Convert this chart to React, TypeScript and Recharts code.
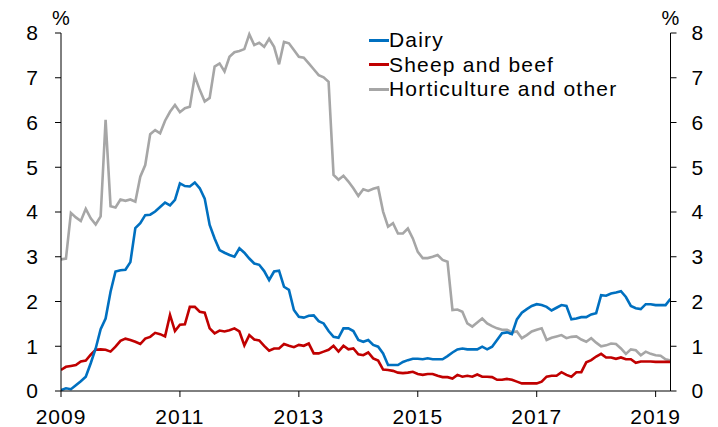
import React from 'react';
import { LineChart, Line, XAxis, YAxis, Legend } from 'recharts';

const startYear = 2009;

const dairy = [
  0.02, 0.06, 0.04, 0.13, 0.22, 0.32, 0.62, 0.95, 1.38, 1.62, 2.22, 2.67,
  2.70, 2.71, 2.88, 3.64, 3.75, 3.93, 3.94, 4.01, 4.11, 4.21, 4.15, 4.27,
  4.64, 4.58, 4.57, 4.66, 4.53, 4.30, 3.71, 3.41, 3.15, 3.09, 3.04, 3.00,
  3.19, 3.09, 2.96, 2.85, 2.82, 2.68, 2.48, 2.67, 2.69, 2.33, 2.26, 1.81,
  1.66, 1.64, 1.68, 1.69, 1.56, 1.51, 1.34, 1.21, 1.19, 1.40, 1.40, 1.34,
  1.14, 1.10, 1.14, 1.03, 0.99, 0.84, 0.58, 0.58, 0.58, 0.65, 0.69, 0.72,
  0.72, 0.71, 0.73, 0.71, 0.71, 0.71, 0.78, 0.86, 0.93, 0.95, 0.93, 0.93,
  0.93, 0.99, 0.93, 0.99, 1.14, 1.29, 1.31, 1.27, 1.60, 1.75, 1.83, 1.90,
  1.94, 1.92, 1.88, 1.80, 1.86, 1.92, 1.90, 1.60, 1.62, 1.65, 1.65, 1.71,
  1.74, 2.14, 2.13, 2.18, 2.20, 2.23, 2.10, 1.90, 1.85, 1.83, 1.94, 1.94,
  1.92, 1.92, 1.92, 2.06,
];

const sheepAndBeef = [
  0.47, 0.54, 0.56, 0.58, 0.66, 0.68, 0.81, 0.92, 0.93, 0.92, 0.88, 0.99,
  1.12, 1.17, 1.14, 1.10, 1.05, 1.17, 1.21, 1.30, 1.27, 1.22, 1.70, 1.34,
  1.48, 1.49, 1.88, 1.88, 1.77, 1.75, 1.40, 1.29, 1.35, 1.33, 1.36, 1.40,
  1.33, 1.02, 1.25, 1.15, 1.13, 1.01, 0.90, 0.95, 0.95, 1.05, 1.01, 0.98,
  1.03, 1.01, 1.06, 0.84, 0.84, 0.88, 0.92, 1.01, 0.88, 1.01, 0.93, 0.95,
  0.82, 0.80, 0.86, 0.73, 0.68, 0.48, 0.47, 0.45, 0.41, 0.40, 0.41, 0.43,
  0.38, 0.36, 0.38, 0.38, 0.34, 0.31, 0.31, 0.28, 0.36, 0.32, 0.34, 0.32,
  0.37, 0.32, 0.32, 0.31, 0.25, 0.25, 0.27, 0.25, 0.21, 0.17, 0.17, 0.17,
  0.17, 0.21, 0.32, 0.34, 0.34, 0.42, 0.36, 0.32, 0.42, 0.42, 0.64, 0.69,
  0.77, 0.83, 0.75, 0.75, 0.72, 0.75, 0.71, 0.71, 0.63, 0.66, 0.66, 0.66,
  0.65, 0.65, 0.65, 0.65,
];

const horticulture = [
  2.94, 2.96, 3.98, 3.88, 3.80, 4.07, 3.86, 3.72, 3.90, 6.06, 4.13, 4.10,
  4.28, 4.25, 4.28, 4.23, 4.79, 5.05, 5.74, 5.83, 5.76, 6.04, 6.24, 6.39,
  6.23, 6.32, 6.35, 7.03, 6.73, 6.47, 6.55, 7.25, 7.32, 7.14, 7.47, 7.57,
  7.60, 7.64, 7.97, 7.73, 7.78, 7.69, 7.87, 7.69, 7.30, 7.80, 7.77, 7.62,
  7.47, 7.45, 7.32, 7.19, 7.06, 7.01, 6.91, 4.83, 4.72, 4.81, 4.68, 4.53,
  4.36, 4.51, 4.47, 4.52, 4.55, 4.01, 3.67, 3.75, 3.52, 3.52, 3.63, 3.41,
  3.11, 2.97, 2.97, 3.00, 3.04, 2.93, 2.89, 1.81, 1.82, 1.77, 1.51, 1.44,
  1.53, 1.62, 1.51, 1.45, 1.40, 1.37, 1.37, 1.31, 1.33, 1.18, 1.25, 1.33,
  1.37, 1.40, 1.14, 1.19, 1.22, 1.25, 1.18, 1.21, 1.22, 1.15, 1.10, 1.18,
  1.08, 1.00, 1.02, 1.06, 1.05, 0.95, 0.83, 0.93, 0.91, 0.80, 0.88, 0.83,
  0.80, 0.79, 0.71, 0.68,
];

const xTicks = [2009, 2011, 2013, 2015, 2017, 2019];
const yTicks = [0, 1, 2, 3, 4, 5, 6, 7, 8];

const series = [
  { key: 'dairy', name: 'Dairy', color: '#0070C0' },
  { key: 'sheep', name: 'Sheep and beef', color: '#C00000' },
  { key: 'hort', name: 'Horticulture and other', color: '#A6A6A6' },
];

const data = dairy.map((d, i) => ({
  t: startYear + i / 12,
  dairy: d,
  sheep: sheepAndBeef[i],
  hort: horticulture[i],
}));

const FONT = "'Liberation Sans', Arial, sans-serif";
const FS = 21;

const tickStyle = { fill: '#000', fontSize: FS, fontFamily: FONT, letterSpacing: 1 };

const renderLegend = () => (
  <div style={{ fontFamily: FONT, fontSize: FS, color: '#000', letterSpacing: 1.2 }}>
    {series.map((s) => (
      <div key={s.key} style={{ display: 'flex', alignItems: 'center', height: 24.6, whiteSpace: 'nowrap' }}>
        <div style={{ width: 20, height: 3, background: s.color }} />
        <span>{s.name}</span>
      </div>
    ))}
  </div>
);

const pctLabel = (side: 'left' | 'right') => (props: any) => {
  const vb = props.viewBox || {};
  const x = side === 'left' ? vb.x + vb.width : vb.x;
  return (
    <text x={x} y={vb.y - 8} textAnchor="middle" fill="#000" fontSize={20} fontFamily={FONT}>
      %
    </text>
  );
};

export default function App() {
  return (
    <div style={{ position: 'absolute', left: 0, top: 0 }}>
      <LineChart width={718} height={427} data={data} margin={{ top: 33, right: 0, bottom: 0, left: 0 }}>
        <XAxis
          dataKey="t"
          type="number"
          domain={[2009, 2019.25]}
          ticks={xTicks}
          allowDataOverflow
          height={36}
          axisLine={{ stroke: '#000' }}
          tickLine={{ stroke: '#000' }}
          tickSize={6}
          tickMargin={12}
          tick={tickStyle}
        />
        <YAxis
          yAxisId="left"
          orientation="left"
          domain={[0, 8]}
          ticks={yTicks}
          width={61}
          axisLine={{ stroke: '#000' }}
          tickLine={{ stroke: '#000' }}
          tickSize={6}
          tickMargin={16}
          tick={tickStyle}
          label={{ content: pctLabel('left') }}
        />
        <YAxis
          yAxisId="right"
          orientation="right"
          domain={[0, 8]}
          ticks={yTicks}
          width={47.5}
          axisLine={{ stroke: '#000' }}
          tickLine={{ stroke: '#000' }}
          tickSize={6}
          tickMargin={15}
          tick={{ ...tickStyle, textAnchor: 'start' }}
          label={{ content: pctLabel('right') }}
        />
        <Legend
          layout="vertical"
          align="center"
          verticalAlign="middle"
          content={renderLegend}
          wrapperStyle={{ position: 'absolute', left: 369, top: 28, width: 'auto', height: 'auto' }}
        />
        <Line yAxisId="right" type="linear" dataKey="hort" name="Horticulture and other" stroke="#A6A6A6" strokeWidth={2.6} dot={false} isAnimationActive={false} />
        <Line yAxisId="left" type="linear" dataKey="sheep" name="Sheep and beef" stroke="#C00000" strokeWidth={2.6} dot={false} isAnimationActive={false} />
        <Line yAxisId="left" type="linear" dataKey="dairy" name="Dairy" stroke="#0070C0" strokeWidth={2.6} dot={false} isAnimationActive={false} />
      </LineChart>
    </div>
  );
}
